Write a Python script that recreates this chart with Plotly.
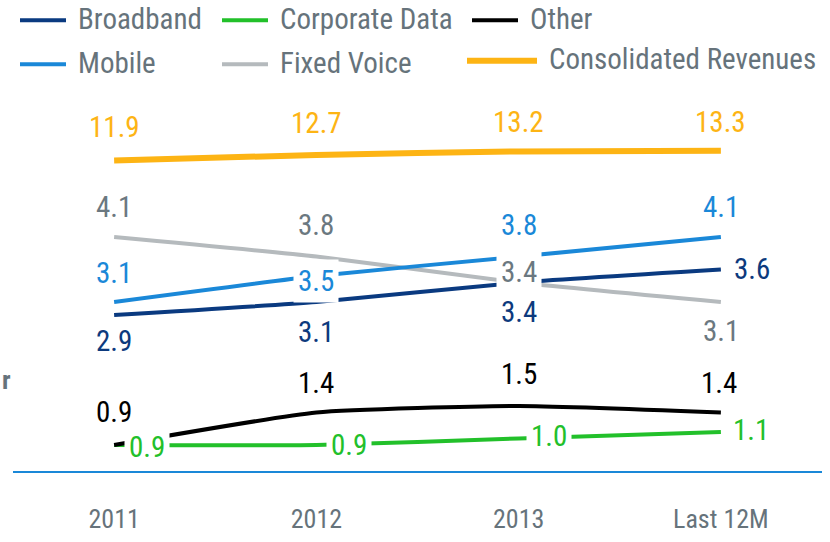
import plotly.graph_objects as go

# ---------------- data ----------------
categories = ["2011", "2012", "2013", "Last 12M"]
broadband = [2.9, 3.1, 3.4, 3.6]
mobile = [3.1, 3.5, 3.8, 4.1]
fixed_voice = [4.1, 3.8, 3.4, 3.1]
corporate_data = [0.9, 0.9, 1.0, 1.1]
other = [0.9, 1.4, 1.5, 1.4]
consolidated = [11.9, 12.7, 13.2, 13.3]

series_names = ["Broadband", "Corporate Data", "Other", "Mobile", "Fixed Voice", "Consolidated Revenues"]

# ---------------- styles ----------------
FONT = "Roboto Condensed, Roboto, Arial Narrow, sans-serif"
GREY_TXT = "#66737b"
W, H = 830, 542
# plot area (pixels): x 13..822, y 100..484
ML, MR, MT, MB = 13, 8, 100, 58
PW, PH = W - ML - MR, H - MT - MB

def px_x(px):
    return (px - ML) / PW

def px_y(py):
    return (H - MB - py) / PH

styles = {
    "Fixed Voice": dict(vals=fixed_voice, axis="y", color="#b5babd", lab="#6b7880", width=4,
                        dy=[29, 30, 9, -30], dx=[0, 0, 0, 0], bg=[False, False, True, False]),
    "Mobile": dict(vals=mobile, axis="y", color="#1a88d8", lab="#1a88d8", width=4,
                   dy=[28, -6, 30, 29], dx=[0, 0, 0, 0], bg=[False, True, False, False]),
    "Broadband": dict(vals=broadband, axis="y", color="#0a3a80", lab="#0d3a7d", width=4,
                      dy=[-27, -31, -31, -1], dx=[0, 0, 0, 31], bg=[False] * 4),
    "Corporate Data": dict(vals=corporate_data, axis="y", color="#22c02a", lab="#22c02a", width=4,
                           dy=[-3, -1, 1, 1], dx=[33, 33, 30, 30], bg=[True] * 4),
    "Other": dict(vals=other, axis="y", color="#000000", lab="#000000", width=4,
                  dy=[32, 28, 31, 28], dx=[0, 0, 0, -2], bg=[False] * 4),
    "Consolidated Revenues": dict(vals=consolidated, axis="y2", color="#fdb414", lab="#fdb414", width=6,
                                  dy=[32, 30, 28, 27], dx=[0, 0, 0, 0], bg=[False] * 4),
}
draw_order = ["Fixed Voice", "Mobile", "Broadband", "Corporate Data", "Other", "Consolidated Revenues"]

# legend layout (pixels): symbol x0, x1, y, text x, symbol width
legend_pos = {
    "Broadband": (20, 66, 17.5, 76, 4),
    "Corporate Data": (222, 268, 17.5, 278, 4),
    "Other": (472, 518, 17.5, 528, 4),
    "Mobile": (20, 66, 63, 76, 4),
    "Fixed Voice": (222, 268, 63, 278, 4),
    "Consolidated Revenues": (467, 537, 59.5, 547, 6),
}

fig = go.Figure()
annotations = []
for name in draw_order:
    s = styles[name]
    fig.add_trace(go.Scatter(
        x=categories, y=s["vals"], mode="lines", name=name, yaxis=s["axis"],
        line=dict(color=s["color"], width=s["width"], shape="spline", smoothing=0.5),
        showlegend=False, hoverinfo="skip",
    ))
    for i, v in enumerate(s["vals"]):
        annotations.append(dict(
            x=i, y=v, xref="x", yref=s["axis"], text=f"{v:.1f}", showarrow=False,
            xanchor="center", yanchor="middle", xshift=s["dx"][i], yshift=s["dy"][i] + 1.5,
            font=dict(family=FONT, size=29, color=s["lab"]),
            bgcolor="white" if s["bg"][i] else "rgba(0,0,0,0)",
            borderpad=4 if s["bg"][i] else 0,
        ))

shapes = []
for name in series_names:
    x0, x1, y, tx, w = legend_pos[name]
    shapes.append(dict(type="line", xref="paper", yref="paper",
                       x0=px_x(x0), x1=px_x(x1), y0=px_y(y), y1=px_y(y),
                       line=dict(color=styles[name]["color"], width=w)))
    annotations.append(dict(x=px_x(tx), y=px_y(y - 1.5), xref="paper", yref="paper", text=name,
                            showarrow=False, xanchor="left", yanchor="middle",
                            font=dict(family=FONT, size=29, color=GREY_TXT)))

# clipped axis-title fragment at the far left
annotations.append(dict(x=px_x(0), y=px_y(390), xref="paper", yref="paper", text="<b>r</b>",
                        showarrow=False, xanchor="left", yanchor="middle",
                        font=dict(family=FONT, size=26, color=GREY_TXT)))

fig.update_layout(
    width=W, height=H, autosize=False,
    margin=dict(l=ML, r=MR, t=MT, b=MB, pad=0),
    paper_bgcolor="white", plot_bgcolor="white",
    showlegend=False,
    xaxis=dict(type="category", range=[-0.5, 3.5], showgrid=False, zeroline=False,
               showline=True, linecolor="#1a88d8", linewidth=2, ticks="",
               ticklabelstandoff=24,
               tickfont=dict(family=FONT, size=26, color=GREY_TXT)),
    yaxis=dict(range=[0.5, 6.21], visible=False, showgrid=False, zeroline=False),
    yaxis2=dict(range=[-32.17, 20.5], overlaying="y", visible=False, showgrid=False, zeroline=False),
    annotations=annotations,
    shapes=shapes,
)

fig.write_html("out.html", config={"displayModeBar": False},
               post_script="document.body.style.margin='0';document.body.style.overflow='hidden';")
